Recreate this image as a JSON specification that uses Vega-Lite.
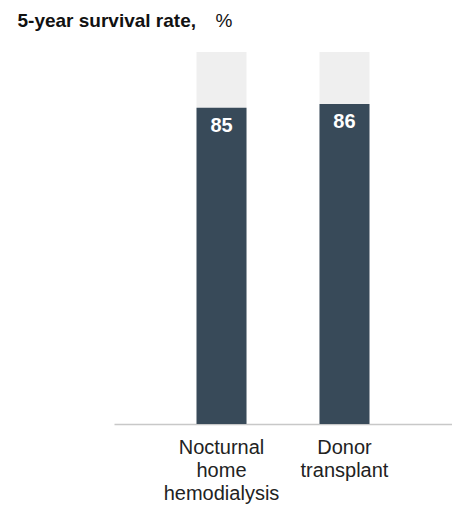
{
  "$schema": "https://vega.github.io/schema/vega-lite/v6.json",
  "width": 338,
  "height": 372,
  "autosize": {"type": "none"},
  "padding": {"left": 114, "top": 52, "right": 0, "bottom": 82},
  "background": "white",
  "config": {
    "view": {"stroke": null},
    "font": "Liberation Sans"
  },
  "data": {
    "values": [
      {"category": "Nocturnal home hemodialysis", "rate": 85, "total": 100},
      {"category": "Donor transplant", "rate": 86, "total": 100}
    ]
  },
  "encoding": {
    "x": {
      "field": "category",
      "type": "nominal",
      "sort": null,
      "scale": {"paddingInner": 0.5935, "paddingOuter": 0.671},
      "axis": {
        "title": "%",
        "titleAngle": 0,
        "titleAlign": "left",
        "titleBaseline": "alphabetic",
        "titleX": 101,
        "titleY": -398,
        "titleFontSize": 19,
        "titleFontWeight": "normal",
        "titleColor": "#111111",
        "labelAngle": 0,
        "labelExpr": "split(datum.label, ' ')",
        "labelFontSize": 20,
        "labelLineHeight": 23,
        "labelColor": "#222222",
        "labelBaseline": "top",
        "labelPadding": 13,
        "ticks": false,
        "tickSize": 0,
        "domainColor": "#c8c8c8",
        "domainWidth": 1.5,
        "grid": false
      }
    }
  },
  "layer": [
    {
      "mark": {"type": "bar", "color": "#efefef"},
      "encoding": {
        "y": {
          "field": "total",
          "type": "quantitative",
          "scale": {"domain": [0, 100], "nice": false},
          "axis": {
            "title": "5-year survival rate,",
            "titleAngle": 0,
            "titleAlign": "left",
            "titleBaseline": "alphabetic",
            "titleX": -97,
            "titleY": -26,
            "titleFontSize": 19,
            "titleFontWeight": "bold",
            "titleColor": "#111111",
            "labels": false,
            "ticks": false,
            "domain": false,
            "grid": false
          }
        }
      }
    },
    {
      "mark": {"type": "bar", "color": "#384a59"},
      "encoding": {
        "y": {"field": "rate", "type": "quantitative"}
      }
    },
    {
      "mark": {
        "type": "text",
        "color": "white",
        "fontSize": 20,
        "fontWeight": "bold",
        "baseline": "alphabetic",
        "dy": 24
      },
      "encoding": {
        "y": {"field": "rate", "type": "quantitative"},
        "text": {"field": "rate", "type": "quantitative"}
      }
    }
  ]
}
